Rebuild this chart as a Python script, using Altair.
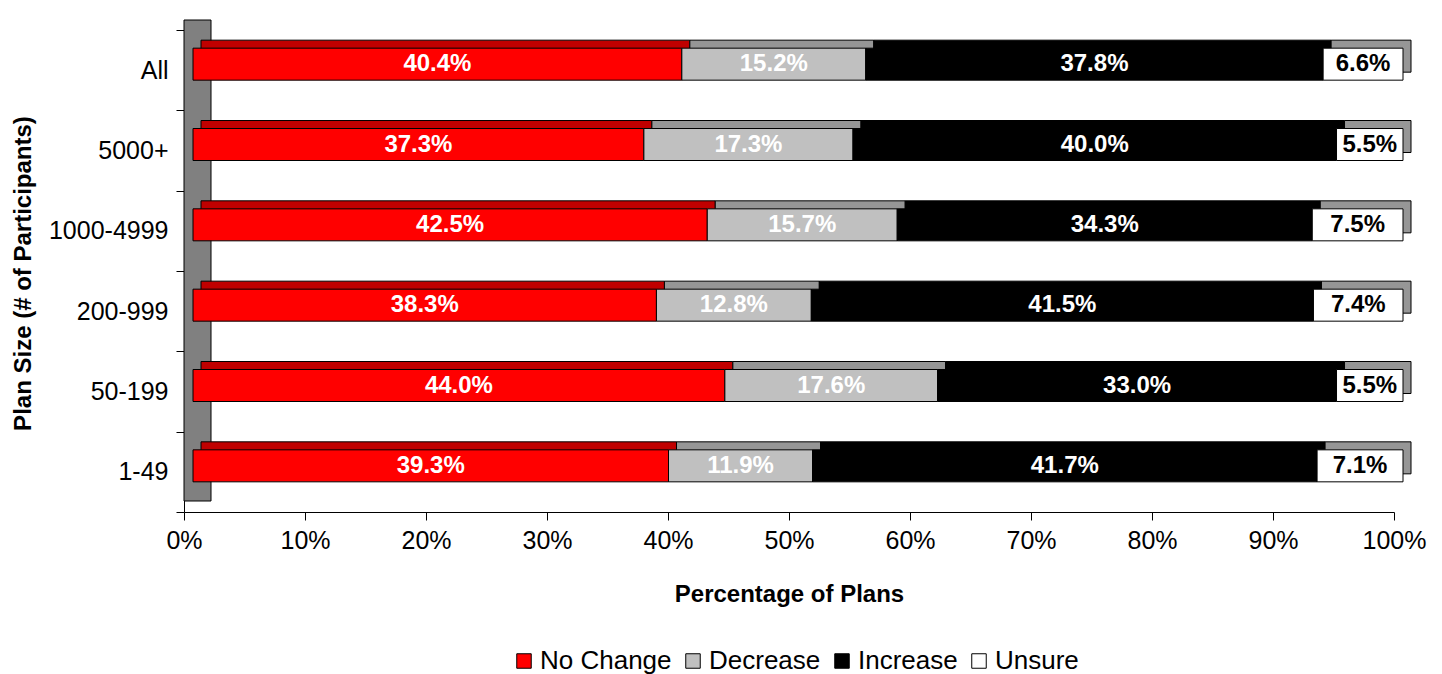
import altair as alt
import pandas as pd

categories = ["All", "5000+", "1000-4999", "200-999", "50-199", "1-49"]
series = ["No Change", "Decrease", "Increase", "Unsure"]
no_change = [40.4, 37.3, 42.5, 38.3, 44.0, 39.3]
decrease = [15.2, 17.3, 15.7, 12.8, 17.6, 11.9]
increase = [37.8, 40.0, 34.3, 41.5, 33.0, 41.7]
unsure = [6.6, 5.5, 7.5, 7.4, 5.5, 7.1]

front_colors = ["#FF0000", "#C0C0C0", "#000000", "#FFFFFF"]
top_colors = ["#C00000", "#969696", "#000000", "#969696"]
label_colors = ["#FFFFFF", "#FFFFFF", "#FFFFFF", "#000000"]

values_by_series = [no_change, decrease, increase, unsure]
rows = []
for si, s in enumerate(series):
    for ci, c in enumerate(categories):
        v = values_by_series[si][ci]
        rows.append({
            "cat": c, "series": s, "value": v, "order": si,
            "label": f"{v:.1f}%", "top": top_colors[si], "lc": label_colors[si],
        })
df = pd.DataFrame(rows)

FONT = "Liberation Sans"

base = alt.Chart(df).transform_stack(
    stack="value", groupby=["cat"], as_=["v0", "v1"], offset="normalize",
    sort=[alt.SortField("order", order="ascending")],
).transform_calculate(mid="(datum.v0 + datum.v1) / 2")

xscale = alt.Scale(domain=[0, 1], nice=False, zero=True)
yscale = alt.Scale(domain=categories, paddingInner=0, paddingOuter=0)

xaxis = alt.Axis(
    format="%", values=[i / 10 for i in range(11)], grid=False,
    labelFont=FONT, labelFontSize=25, labelColor="black", labelPadding=8,
    labelFlush=False, labelOverlap=False,
    tickSize=8, tickColor="black", domainColor="black",
    title="Percentage of Plans", titleFont=FONT, titleFontSize=24,
    titleFontWeight="bold", titleColor="black", titleY=82, titleBaseline="middle",
)
yaxis = alt.Axis(
    grid=False, labelFont=FONT, labelFontSize=25, labelColor="black",
    labelPadding=8, tickSize=8, tickColor="black", domainColor="black",
    tickBand="extent",
    title="Plan Size (# of Participants)", titleFont=FONT, titleFontSize=24,
    titleFontWeight="bold", titleColor="black", titleX=-154, titleY=243,
    titleBaseline="alphabetic", titleAlign="center", titleAngle=270,
)

wall = alt.Chart(pd.DataFrame({"w": [0]})).mark_rect(
    fill="#808080", stroke="black", strokeWidth=1
).encode(
    x=alt.value(0), x2=alt.value(27), y=alt.value(-10), y2=alt.value(471)
)

back = base.mark_bar(
    size=32, stroke="black", strokeWidth=1, xOffset=17, x2Offset=17, yOffset=-14
).encode(
    x=alt.X("v0:Q", scale=xscale, axis=xaxis),
    x2="v1:Q",
    y=alt.Y("cat:N", scale=yscale, sort=categories, axis=yaxis),
    fill=alt.Fill("top:N", scale=None, legend=None),
)

front = base.mark_bar(
    size=32, stroke="black", strokeWidth=1, xOffset=9, x2Offset=9, yOffset=-6
).encode(
    x=alt.X("v0:Q", scale=xscale),
    x2="v1:Q",
    y=alt.Y("cat:N", scale=yscale, sort=categories),
    color=alt.Color(
        "series:N",
        scale=alt.Scale(domain=series, range=front_colors),
        sort=series,
        legend=alt.Legend(
            title=None, orient="none", legendX=327, legendY=618,
            direction="horizontal", symbolType="square", symbolSize=210,
            symbolStrokeColor="black", symbolStrokeWidth=1,
            labelFont=FONT, labelFontSize=26, labelColor="black",
            labelOffset=3, columnPadding=8,
        ),
    ),
)

labels = base.mark_text(
    font=FONT, fontSize=24, fontWeight="bold", align="center",
    baseline="middle", dx=9, dy=-6,
).encode(
    x=alt.X("mid:Q", scale=xscale),
    y=alt.Y("cat:N", scale=yscale, sort=categories),
    text="label:N",
    color=alt.Color("lc:N", scale=None, legend=None),
)

chart = alt.layer(wall, back, front, labels).properties(
    width=1210, height=482,
    autosize=alt.AutoSizeParams(type="none"),
    padding={"left": 184, "top": 30, "right": 48, "bottom": 162},
    background="white",
).configure_view(stroke=None)

chart.save("out.html", embed_options={"renderer": "svg", "actions": False})
